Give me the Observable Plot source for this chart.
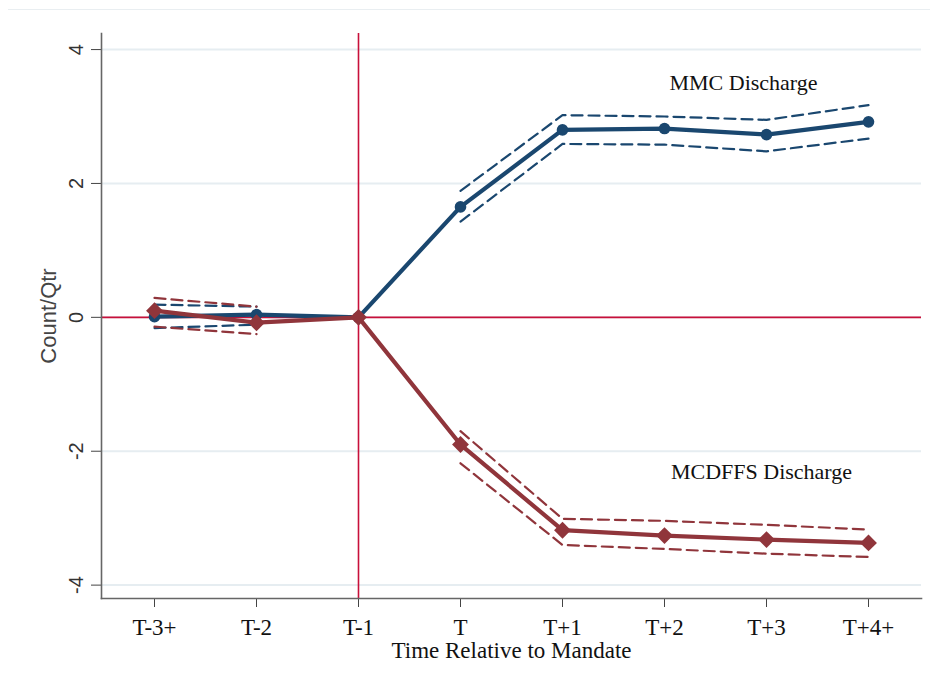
<!DOCTYPE html>
<html>
<head>
<meta charset="utf-8">
<script src="https://cdn.jsdelivr.net/npm/d3@7"></script>
<script src="https://cdn.jsdelivr.net/npm/@observablehq/plot@0.6"></script>
<style>
  html, body { margin: 0; padding: 0; background: #fff; }
  #wrap { position: relative; width: 933px; height: 684px; }
  #topline { position: absolute; left: 8px; top: 9px; width: 922px; height: 1px; background: #e9eef1; }
</style>
</head>
<body>
<div id="wrap"><div id="topline"></div><div id="chart"></div></div>
<script>
const periods = ["T-3+", "T-2", "T-1", "T", "T+1", "T+2", "T+3", "T+4+"];
const mmc   = [0.01, 0.04, 0, 1.65, 2.80, 2.82, 2.73, 2.92];
const mmcHi = [0.19, 0.16, null, 1.89, 3.02, 3.00, 2.95, 3.17];
const mmcLo = [-0.16, -0.11, null, 1.43, 2.59, 2.58, 2.48, 2.67];
const mcd   = [0.10, -0.08, 0, -1.90, -3.18, -3.26, -3.32, -3.37];
const mcdHi = [0.29, 0.16, null, -1.70, -3.01, -3.04, -3.10, -3.17];
const mcdLo = [-0.14, -0.25, null, -2.18, -3.40, -3.46, -3.53, -3.58];
const yTicks = [-4, -2, 0, 2, 4];
const seriesLabels = ["MMC Discharge", "MCDFFS Discharge"];

const blue = "#1a476f";
const red = "#90353b";
const refRed = "#c8103a";
const serif = "'Liberation Serif', 'DejaVu Serif', serif";
const sans = "'Liberation Sans', Arial, sans-serif";

const rows = (vals) => periods.map((p, i) => ({p, v: vals[i]}));
const ci = (vals) => periods.map((p, i) => ({p, v: vals[i] == null ? NaN : vals[i]}));

const chart = Plot.plot({
  width: 933,
  height: 684,
  marginLeft: 101,
  marginRight: 12,
  marginTop: 33,
  marginBottom: 86,
  style: {fontFamily: serif, background: "transparent"},
  x: {type: "point", domain: periods, padding: 0.5, align: 0.5},
  y: {domain: [-4.2, 4.24]},
  marks: [
    Plot.gridY(yTicks, {stroke: "#e6edf1", strokeOpacity: 1, strokeWidth: 2}),
    Plot.ruleY([0], {stroke: refRed, strokeWidth: 1.6}),
    Plot.ruleX(["T-1"], {stroke: refRed, strokeWidth: 1.6}),
    Plot.line(ci(mmcHi), {x: "p", y: "v", stroke: blue, strokeWidth: 2.2, strokeDasharray: "11,6"}),
    Plot.line(ci(mmcLo), {x: "p", y: "v", stroke: blue, strokeWidth: 2.2, strokeDasharray: "11,6"}),
    Plot.line(ci(mcdHi), {x: "p", y: "v", stroke: red, strokeWidth: 2.2, strokeDasharray: "11,6"}),
    Plot.line(ci(mcdLo), {x: "p", y: "v", stroke: red, strokeWidth: 2.2, strokeDasharray: "11,6"}),
    Plot.line(rows(mmc), {x: "p", y: "v", stroke: blue, strokeWidth: 4.2}),
    Plot.dot(rows(mmc), {x: "p", y: "v", r: 5.8, fill: blue}),
    Plot.line(rows(mcd), {x: "p", y: "v", stroke: red, strokeWidth: 4.2}),
    Plot.dot(rows(mcd), {x: "p", y: "v", r: 7.6, symbol: "diamond2", fill: red}),
    Plot.text([seriesLabels[0]], {x: () => "T+3", y: () => 3.5, text: d => d, dx: -23, fontSize: 22, fill: "#111", fontFamily: serif}),
    Plot.text([seriesLabels[1]], {x: () => "T+3", y: () => -2.31, text: d => d, dx: -5, fontSize: 22, fill: "#111", fontFamily: serif}),
    Plot.axisY(yTicks, {tickSize: 10, tickRotate: -90, tickPadding: 9, tickFormat: d => String(d), fontSize: 20, fontFamily: sans, fill: "#333", stroke: "#444", label: null}),
    Plot.axisX({tickSize: 9, tickPadding: 11, fontSize: 23, fontFamily: serif, fill: "#111", stroke: "#444", label: null}),
    Plot.frame({anchor: "left", stroke: "#666", strokeWidth: 1.6}),
    Plot.frame({anchor: "bottom", stroke: "#666", strokeWidth: 1.6}),
    Plot.text(["Count/Qtr"], {frameAnchor: "left", dx: -53, rotate: -90, text: d => d, fontSize: 22, fontFamily: sans, fill: "#444", lineAnchor: "middle", textAnchor: "middle"}),
    Plot.text(["Time Relative to Mandate"], {frameAnchor: "bottom", dy: 43, text: d => d, fontSize: 23, fontFamily: serif, fill: "#111", lineAnchor: "top"})
  ]
});
document.getElementById("chart").appendChild(chart);
</script>
</body>
</html>
